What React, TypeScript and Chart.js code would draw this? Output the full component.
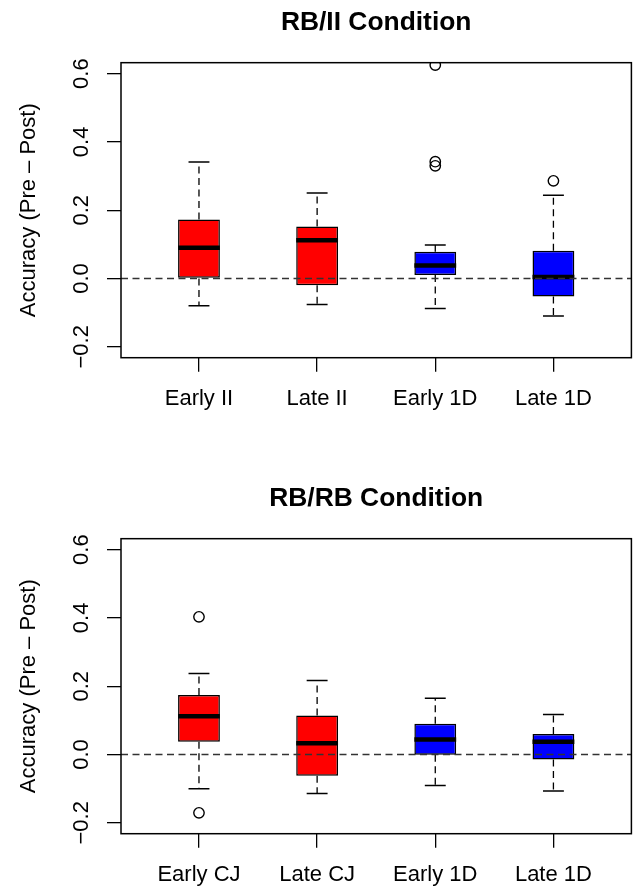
import React, { useEffect, useRef } from "react";
import { Chart, registerables } from "chart.js";

Chart.register(...registerables);

const FONT_FAMILY = '"Liberation Sans", Arial, Helvetica, sans-serif';

// Shared axis setup
const xPositions = [1, 2, 3, 4];
const xMin = 0.34;
const xMax = 4.66;
const yMin = -0.232;
const yMax = 0.632;
const yTickValues = [-0.2, 0, 0.2, 0.4, 0.6];
const yTickLabels = ["\u22120.2", "0.0", "0.2", "0.4", "0.6"];
const boxColors = ["#FF0000", "#FF0000", "#0000FF", "#0000FF"];
const referenceLevel = 0;
const yAxisTitle = "Accuracy (Pre \u2013 Post)";

// RB/II condition
const rbIITitle = "RB/II Condition";
const rbIICategories = ["Early II", "Late II", "Early 1D", "Late 1D"];
const rbIILowerWhisker = [-0.08, -0.076, -0.088, -0.11];
const rbIIQ1 = [0.0, -0.02, 0.01, -0.053];
const rbIIMedian = [0.09, 0.112, 0.038, 0.004];
const rbIIQ3 = [0.173, 0.152, 0.078, 0.081];
const rbIIUpperWhisker = [0.341, 0.25, 0.098, 0.244];
const rbIIOutlierGroup = [3, 3, 3, 4];
const rbIIOutlierValue = [0.625, 0.342, 0.33, 0.286];

// RB/RB condition
const rbRBTitle = "RB/RB Condition";
const rbRBCategories = ["Early CJ", "Late CJ", "Early 1D", "Late 1D"];
const rbRBLowerWhisker = [-0.1, -0.114, -0.091, -0.107];
const rbRBQ1 = [0.037, -0.062, -0.001, -0.015];
const rbRBMedian = [0.112, 0.033, 0.044, 0.037];
const rbRBQ3 = [0.174, 0.114, 0.09, 0.06];
const rbRBUpperWhisker = [0.237, 0.217, 0.165, 0.117];
const rbRBOutlierGroup = [1, 1];
const rbRBOutlierValue = [0.403, -0.171];

// Whiskers, staples and median bars drawn around each box
const boxWhiskerPlugin = {
  id: "boxWhiskers",
  afterDatasetDraw(chart: any, args: any, opts: any) {
    const meta = args.meta;
    if (meta.type !== "bar") return;
    const yScale = chart.scales.y;
    const ctx = chart.ctx;
    ctx.save();
    ctx.strokeStyle = "#000";
    meta.data.forEach((bar: any, i: number) => {
      const { x, width } = bar.getProps(["x", "width"], true);
      const half = width / 2;
      const yLo = yScale.getPixelForValue(opts.lower[i]);
      const yQ1 = yScale.getPixelForValue(opts.q1[i]);
      const yMed = yScale.getPixelForValue(opts.median[i]);
      const yQ3 = yScale.getPixelForValue(opts.q3[i]);
      const yHi = yScale.getPixelForValue(opts.upper[i]);

      ctx.lineWidth = 1.3;
      ctx.setLineDash([7, 4.5]);
      ctx.beginPath();
      ctx.moveTo(x, yQ3);
      ctx.lineTo(x, yHi);
      ctx.moveTo(x, yQ1);
      ctx.lineTo(x, yLo);
      ctx.stroke();

      ctx.setLineDash([]);
      ctx.lineWidth = 1.5;
      ctx.beginPath();
      ctx.moveTo(x - half / 2, yHi);
      ctx.lineTo(x + half / 2, yHi);
      ctx.moveTo(x - half / 2, yLo);
      ctx.lineTo(x + half / 2, yLo);
      ctx.stroke();

      ctx.lineWidth = 4.5;
      ctx.beginPath();
      ctx.moveTo(x - half, yMed);
      ctx.lineTo(x + half, yMed);
      ctx.stroke();
    });
    ctx.restore();
  },
};

// Rectangle around the plotting region
const plotFramePlugin = {
  id: "plotFrame",
  afterDraw(chart: any) {
    const { ctx, chartArea } = chart;
    ctx.save();
    ctx.strokeStyle = "#000";
    ctx.lineWidth = 1.5;
    ctx.strokeRect(
      chartArea.left,
      chartArea.top,
      chartArea.right - chartArea.left,
      chartArea.bottom - chartArea.top
    );
    ctx.restore();
  },
};

type PanelProps = {
  top: number;
  title: string;
  categories: string[];
  lower: number[];
  q1: number[];
  median: number[];
  q3: number[];
  upper: number[];
  outlierGroup: number[];
  outlierValue: number[];
};

const CANVAS_W = 638;
const CANVAS_H = 413;

function BoxPanel(props: PanelProps) {
  const canvasRef = useRef<HTMLCanvasElement | null>(null);

  useEffect(() => {
    if (!canvasRef.current) return;
    const { title, categories, lower, q1, median, q3, upper, outlierGroup, outlierValue } = props;

    const tickStyle = {
      drawOnChartArea: false,
      drawTicks: true,
      tickLength: 14,
      color: "#000",
      lineWidth: 1.3,
      offset: false,
    };

    const chart = new Chart(canvasRef.current, {
      type: "bar",
      data: {
        datasets: [
          {
            type: "line",
            data: [
              { x: xMin, y: referenceLevel },
              { x: xMax, y: referenceLevel },
            ],
            borderColor: "#333",
            borderWidth: 1.5,
            borderDash: [7, 4.5],
            pointRadius: 0,
            fill: false,
            tension: 0,
          } as any,
          {
            type: "scatter",
            data: outlierGroup.map((g, i) => ({ x: g, y: outlierValue[i] })),
            pointStyle: "circle",
            pointRadius: 5.2,
            pointBorderWidth: 1.4,
            pointBorderColor: "#000",
            pointBackgroundColor: "rgba(0,0,0,0)",
            clip: 0,
          } as any,
          {
            type: "bar",
            data: xPositions.map((x, i) => ({ x, y: [q1[i], q3[i]] })),
            backgroundColor: boxColors,
            borderColor: "#000",
            borderWidth: 1.5,
            borderSkipped: false,
            categoryPercentage: 1,
            barPercentage: 0.354,
          } as any,
        ],
      },
      options: {
        animation: false,
        responsive: false,
        events: [],
        layout: { padding: { left: 0, right: 4, top: 0, bottom: 0 } },
        plugins: {
          legend: { display: false },
          tooltip: { enabled: false },
          title: {
            display: true,
            text: title,
            fullSize: false,
            color: "#000",
            font: { family: FONT_FAMILY, size: 26.4, weight: "bold" },
            padding: { top: 6.8, bottom: 24.2 },
          },
          boxWhiskers: { lower, q1, median, q3, upper },
        } as any,
        scales: {
          x: {
            type: "linear",
            min: xMin,
            max: xMax,
            offset: false,
            grid: tickStyle,
            border: { display: false },
            afterBuildTicks: (scale: any) => {
              scale.ticks = xPositions.map((v) => ({ value: v }));
            },
            afterFit: (scale: any) => {
              scale.height = 55.3;
            },
            ticks: {
              autoSkip: false,
              minRotation: 0,
              maxRotation: 0,
              padding: 14.2,
              color: "#000",
              font: { family: FONT_FAMILY, size: 22 },
              callback: (value: any) => {
                const idx = xPositions.indexOf(Number(value));
                return idx >= 0 ? categories[idx] : "";
              },
            },
          },
          y: {
            type: "linear",
            min: yMin,
            max: yMax,
            grid: tickStyle,
            border: { display: false },
            afterBuildTicks: (scale: any) => {
              scale.ticks = yTickValues.map((v) => ({ value: v }));
            },
            afterFit: (scale: any) => {
              scale.width = 121;
            },
            ticks: {
              minRotation: 90,
              maxRotation: 90,
              crossAlign: "center",
              padding: 3.6,
              color: "#000",
              font: { family: FONT_FAMILY, size: 22 },
              callback: (value: any) => {
                const idx = yTickValues.findIndex((v) => Math.abs(v - Number(value)) < 1e-9);
                return idx >= 0 ? yTickLabels[idx] : "";
              },
            },
            title: {
              display: true,
              text: yAxisTitle,
              color: "#000",
              font: { family: FONT_FAMILY, size: 22 },
              padding: { top: 16.2, bottom: 0 },
            },
          },
        } as any,
      },
      plugins: [boxWhiskerPlugin, plotFramePlugin],
    });

    return () => chart.destroy();
  }, []);

  return (
    <canvas
      ref={canvasRef}
      width={CANVAS_W}
      height={CANVAS_H}
      style={{
        position: "absolute",
        left: 0,
        top: props.top,
        width: CANVAS_W,
        height: CANVAS_H,
        display: "block",
      }}
    />
  );
}

export default function App() {
  return (
    <div
      style={{
        position: "absolute",
        left: 0,
        top: 0,
        width: 638,
        height: 889,
        background: "#fff",
        overflow: "hidden",
      }}
    >
      <BoxPanel
        top={0}
        title={rbIITitle}
        categories={rbIICategories}
        lower={rbIILowerWhisker}
        q1={rbIIQ1}
        median={rbIIMedian}
        q3={rbIIQ3}
        upper={rbIIUpperWhisker}
        outlierGroup={rbIIOutlierGroup}
        outlierValue={rbIIOutlierValue}
      />
      <BoxPanel
        top={476}
        title={rbRBTitle}
        categories={rbRBCategories}
        lower={rbRBLowerWhisker}
        q1={rbRBQ1}
        median={rbRBMedian}
        q3={rbRBQ3}
        upper={rbRBUpperWhisker}
        outlierGroup={rbRBOutlierGroup}
        outlierValue={rbRBOutlierValue}
      />
    </div>
  );
}
